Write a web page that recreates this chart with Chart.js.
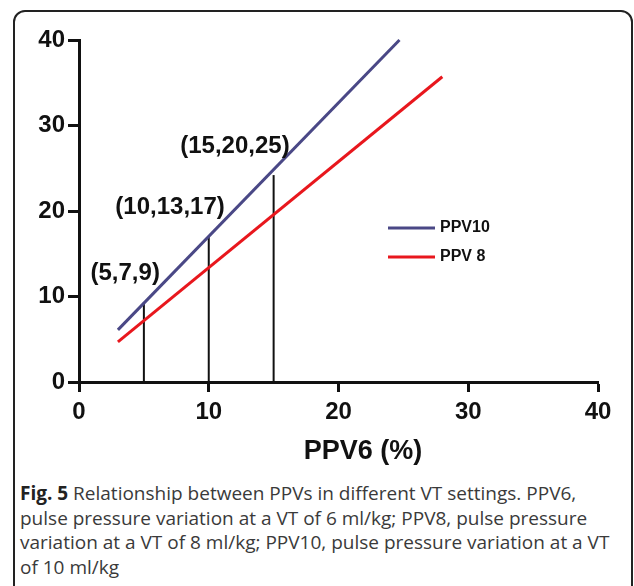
<!DOCTYPE html>
<html>
<head>
<meta charset="utf-8">
<script src="https://cdn.jsdelivr.net/npm/chart.js@4.4.1/dist/chart.umd.min.js"></script>
<style>
    body { margin: 0; background: #fff; width: 634px; height: 586px; overflow: hidden; position: relative; }
    .frame {
        position: absolute; left: 13px; top: 10px; width: 616px; height: 640px;
        border: 2px solid #222; border-radius: 12px;
    }
    #chartWrap { position: absolute; left: 0; top: 0; width: 634px; height: 470px; }
    .caption {
        position: absolute; left: 20px; top: 481px; width: 612px; white-space: nowrap;
        font-family: "Open Sans", sans-serif; font-size: 19px; line-height: 24.7px; color: #3a3a3a;
    }
    .caption b { color: #222; }
</style>
</head>
<body>
<div class="frame"></div>
<div id="chartWrap"><canvas id="ppvChart" width="634" height="470"></canvas></div>
<div class="caption"><b>Fig. 5</b> Relationship between PPVs in different VT settings. PPV6,<br>pulse pressure variation at a VT of 6 ml/kg; PPV8, pulse pressure<br>variation at a VT of 8 ml/kg; PPV10, pulse pressure variation at a VT<br>of 10 ml/kg</div>

<script>
// data
const ppv10X = [3, 24.7];
const ppv10Y = [6.1, 40];
const ppv8X = [3, 28];
const ppv8Y = [4.7, 35.7];

const markerX = [5, 10, 15];
const markerTop = [9.3, 17, 24.2];
const markerLabels = ["(5,7,9)", "(10,13,17)", "(15,20,25)"];

const axisTicks = [0, 10, 20, 30, 40];
const xTitle = "PPV6 (%)";

function toPoints(xs, ys) {
    return xs.map((x, i) => ({ x: x, y: ys[i] }));
}

const datasets = [
    {
        label: "PPV10",
        data: toPoints(ppv10X, ppv10Y),
        borderColor: "#4a4886",
        borderWidth: 3,
        pointRadius: 0,
        showLine: true,
        clip: false,
    },
    {
        label: "PPV 8",
        data: toPoints(ppv8X, ppv8Y),
        borderColor: "#e8171d",
        borderWidth: 3,
        pointRadius: 0,
        showLine: true,
        clip: false,
    },
];

// vertical drop lines
markerX.forEach((x, i) => {
    datasets.push({
        label: "marker" + i,
        data: [{ x: x, y: 0 }, { x: x, y: markerTop[i] }],
        borderColor: "#111",
        borderWidth: 2,
        pointRadius: 0,
        showLine: true,
        isMarker: true,
    });
});

// labels, legend and x title drawn on top
const overlayPlugin = {
    id: "overlay",
    afterDatasetsDraw(chart) {
        const ctx = chart.ctx;
        const xs = chart.scales.x;
        const ys = chart.scales.y;
        ctx.save();
        ctx.fillStyle = "#111";

        ctx.font = "bold 24px 'Liberation Sans', Arial, sans-serif";
        ctx.textAlign = "right";
        ctx.textBaseline = "middle";
        markerX.forEach((x, i) => {
            ctx.fillText(markerLabels[i], xs.getPixelForValue(x) + 16, ys.getPixelForValue(markerTop[i]) - 29);
        });

        // legend
        ctx.font = "bold 16px 'Liberation Sans', Arial, sans-serif";
        ctx.textAlign = "left";
        chart.data.datasets.filter(d => !d.isMarker).forEach((d, i) => {
            const y = 228 + i * 29;
            ctx.strokeStyle = d.borderColor;
            ctx.lineWidth = 3;
            ctx.beginPath();
            ctx.moveTo(388, y);
            ctx.lineTo(435, y);
            ctx.stroke();
            ctx.fillText(d.label, 440, y);
        });

        // x axis title
        ctx.font = "bold 27px 'Liberation Sans', Arial, sans-serif";
        ctx.textAlign = "center";
        ctx.fillText(xTitle, 363, 452);
        ctx.restore();
    }
};

const tickFont = { family: "'Liberation Sans', Arial, sans-serif", size: 24, weight: "bold" };

new Chart(document.getElementById("ppvChart"), {
    type: "scatter",
    data: { datasets: datasets },
    options: {
        responsive: false,
        animation: false,
        layout: { padding: { top: 40, right: 36 } },
        plugins: { legend: { display: false }, tooltip: { enabled: false } },
        scales: {
            x: {
                type: "linear",
                min: 0,
                max: 40,
                afterBuildTicks: s => { s.ticks = axisTicks.map(v => ({ value: v })); },
                afterFit: s => { s.height = 88; },
                border: { color: "#111", width: 3 },
                grid: { drawOnChartArea: false, tickLength: 10, tickWidth: 3, tickColor: "#111" },
                ticks: { color: "#111", font: tickFont, padding: 6 },
            },
            y: {
                type: "linear",
                min: 0,
                max: 40,
                afterBuildTicks: s => { s.ticks = axisTicks.map(v => ({ value: v })); },
                afterFit: s => { s.width = 79; },
                border: { color: "#111", width: 3 },
                grid: { drawOnChartArea: false, tickLength: 11, tickWidth: 3, tickColor: "#111" },
                ticks: { color: "#111", font: tickFont, padding: 3 },
            },
        },
    },
    plugins: [overlayPlugin],
});
</script>
</body>
</html>
